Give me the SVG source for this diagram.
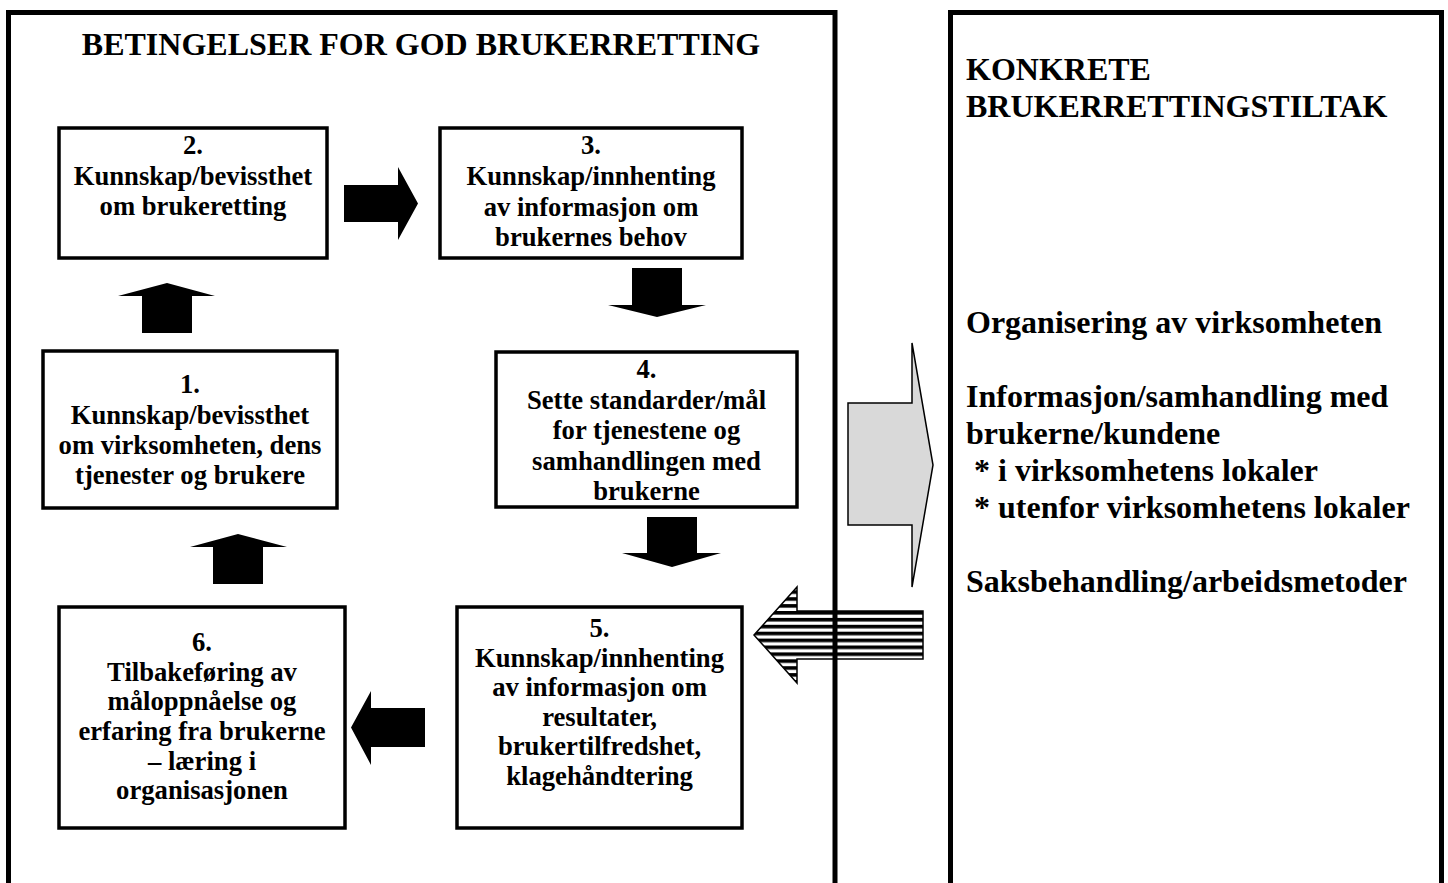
<svg xmlns="http://www.w3.org/2000/svg" width="1448" height="883" viewBox="0 0 1448 883">
<style>
.frame{fill:none;stroke:#000;stroke-width:5}
.box{fill:#fff;stroke:#000;stroke-width:3.5}
.t{font-family:"Liberation Serif","Times New Roman",serif;font-weight:bold;fill:#000}
.bt{font-size:26.67px;text-anchor:middle}
.rt{font-size:32px}
.solid{fill:#000;stroke:none}
</style>
<defs>
<pattern id="stripes" patternUnits="userSpaceOnUse" x="0" y="611" width="10" height="6.9">
<rect width="10" height="6.9" fill="#fff"/>
<rect width="10" height="3.6" fill="#000"/>
</pattern>
</defs>
<rect width="1448" height="883" fill="#fff"/>

<g id="connectors">
<path class="solid" d="M344,185 H398 V167 L418,203.5 L398,240 V222 H344 Z"/>
<path class="solid" d="M632,268 H682 V305 H706 L657,317 L608,305 H632 Z"/>
<path class="solid" d="M647,517 H697 V553 H721 L672,567 L622,553 H647 Z"/>
<path class="solid" d="M425,708 H371 V691 L351,727.5 L371,765 V747 H425 Z"/>
<path class="solid" d="M142,333 V296 H118 L167,283 L215,296 H192 V333 Z"/>
<path class="solid" d="M213,584 V547 H190 L238,534 L287,547 H263 V584 Z"/>
<path d="M848,403 H912 V343 L933,465 L912,587 V525 H848 Z" fill="#d9d9d9" stroke="#000" stroke-width="1.5"/>
<path d="M923,611 H797 V587 L754,635 L797,683 V659 H923 Z" fill="url(#stripes)" stroke="#000" stroke-width="1.5"/>
</g>

<g id="panel-left">
<rect class="frame" x="8.5" y="12.5" width="826.5" height="900"/>
<text class="t" x="421" y="55" font-size="32" text-anchor="middle">BETINGELSER FOR GOD BRUKERRETTING</text>
</g>

<g id="panel-right">
<rect class="frame" x="950.5" y="12.5" width="491" height="900"/>
<text class="t rt" x="966" y="80">KONKRETE</text>
<text class="t rt" x="966" y="117">BRUKERRETTINGSTILTAK</text>
<text class="t rt" x="966" y="333">Organisering av virksomheten</text>
<text class="t rt" x="966" y="407">Informasjon/samhandling med</text>
<text class="t rt" x="966" y="444">brukerne/kundene</text>
<text class="t rt" x="974" y="481">* i virksomhetens lokaler</text>
<text class="t rt" x="974" y="518">* utenfor virksomhetens lokaler</text>
<text class="t rt" x="966" y="592">Saksbehandling/arbeidsmetoder</text>
</g>

<g id="node-2">
<rect class="box" x="59" y="128" width="268" height="130"/>
<text class="t bt" x="193" y="154">2.</text>
<text class="t bt" x="193" y="185">Kunnskap/bevissthet</text>
<text class="t bt" x="193" y="215">om brukeretting</text>
</g>

<g id="node-3">
<rect class="box" x="440" y="128" width="302" height="130"/>
<text class="t bt" x="591" y="154">3.</text>
<text class="t bt" x="591" y="185">Kunnskap/innhenting</text>
<text class="t bt" x="591" y="216">av informasjon om</text>
<text class="t bt" x="591" y="246">brukernes behov</text>
</g>

<g id="node-1">
<rect class="box" x="43" y="351" width="294" height="157"/>
<text class="t bt" x="190" y="393">1.</text>
<text class="t bt" x="190" y="424">Kunnskap/bevissthet</text>
<text class="t bt" x="190" y="454">om virksomheten, dens</text>
<text class="t bt" x="190" y="484">tjenester og brukere</text>
</g>

<g id="node-4">
<rect class="box" x="496" y="352" width="301" height="155"/>
<text class="t bt" x="646.5" y="378">4.</text>
<text class="t bt" x="646.5" y="409">Sette standarder/mål</text>
<text class="t bt" x="646.5" y="439">for tjenestene og</text>
<text class="t bt" x="646.5" y="470">samhandlingen med</text>
<text class="t bt" x="646.5" y="500">brukerne</text>
</g>

<g id="node-6">
<rect class="box" x="59" y="607" width="286" height="221"/>
<text class="t bt" x="202" y="651">6.</text>
<text class="t bt" x="202" y="681">Tilbakeføring av</text>
<text class="t bt" x="202" y="710">måloppnåelse og</text>
<text class="t bt" x="202" y="740">erfaring fra brukerne</text>
<text class="t bt" x="202" y="770">– læring i</text>
<text class="t bt" x="202" y="799">organisasjonen</text>
</g>

<g id="node-5">
<rect class="box" x="457" y="607" width="285" height="221"/>
<text class="t bt" x="599.5" y="637">5.</text>
<text class="t bt" x="599.5" y="667">Kunnskap/innhenting</text>
<text class="t bt" x="599.5" y="696">av informasjon om</text>
<text class="t bt" x="599.5" y="726">resultater,</text>
<text class="t bt" x="599.5" y="755">brukertilfredshet,</text>
<text class="t bt" x="599.5" y="785">klagehåndtering</text>
</g>
</svg>
